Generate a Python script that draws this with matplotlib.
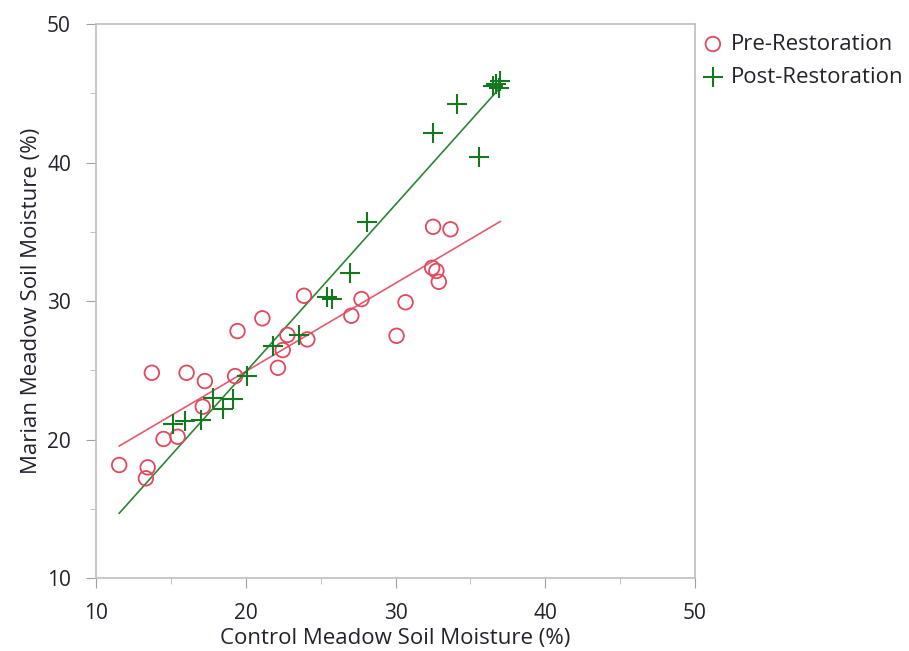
import numpy as np
import matplotlib
matplotlib.use("Agg")
import matplotlib.pyplot as plt
from matplotlib.ticker import MultipleLocator

plt.rcParams["font.family"] = ["Open Sans", "DejaVu Sans"]

# Pre-Restoration (control vs Marian)
pre_x = [11.55, 13.45, 13.33, 13.73, 14.51, 15.45, 16.05, 17.27, 17.13, 19.45,
         19.29, 21.11, 22.15, 22.78, 22.47, 23.89, 24.11, 27.05, 27.73, 30.07,
         30.67, 32.51, 33.67, 32.45, 32.73, 32.89]
pre_y = [18.16, 17.99, 17.20, 24.82, 20.04, 20.20, 24.82, 24.22, 22.37, 27.83,
         24.58, 28.75, 25.18, 27.55, 26.46, 30.38, 27.23, 28.94, 30.14, 27.49,
         29.91, 35.36, 35.18, 32.40, 32.17, 31.39]

# Post-Restoration
post_x = [15.11, 15.95, 17.00, 18.51, 19.18, 17.78, 20.11, 21.85, 23.55, 25.45,
          25.78, 26.95, 28.11, 32.49, 34.11, 35.60, 36.50, 36.70, 36.90, 37.00]
post_y = [21.12, 21.34, 21.41, 22.18, 22.90, 22.99, 24.58, 26.75, 27.55, 30.27,
          30.12, 32.04, 35.73, 42.15, 44.20, 40.42, 45.50, 45.70, 45.40, 45.90]

red = "#E2485E"
green = "#14781E"
text_col = "#22222E"

fig = plt.figure(figsize=(9.09, 6.51), dpi=100)
ax = fig.add_axes([0.1056, 0.1121, 0.659, 0.851])

xmin = min(pre_x + post_x)
xmax = max(pre_x + post_x)
xs = np.array([xmin, xmax])

# least squares fits drawn across the full data range
b_pre = np.polyfit(pre_x, pre_y, 1)
b_post = np.polyfit(post_x, post_y, 1)
ax.plot(xs, np.polyval(b_pre, xs), color=red, lw=1.2, alpha=0.9, zorder=2)
ax.plot(xs, np.polyval(b_post, xs), color=green, lw=1.2, alpha=0.9, zorder=2)

ax.scatter(pre_x, pre_y, s=110, facecolors="none", edgecolors=red,
           linewidths=1.3, zorder=3, label="Pre-Restoration")
ax.scatter(post_x, post_y, s=190, marker="+", color=green,
           linewidths=1.5, zorder=4, label="Post-Restoration")

ax.set_xlim(10, 50)
ax.set_ylim(10, 50)
ax.xaxis.set_major_locator(MultipleLocator(10))
ax.yaxis.set_major_locator(MultipleLocator(10))
ax.xaxis.set_minor_locator(MultipleLocator(5))
ax.yaxis.set_minor_locator(MultipleLocator(5))

for sp in ax.spines.values():
    sp.set_color("#BDBDBD")
    sp.set_linewidth(1.2)
ax.tick_params(which="major", length=7, color="#A0A0A0", labelsize=15,
               labelcolor=text_col, pad=11)
ax.tick_params(which="minor", length=4, color="#B8B8B8")

ax.set_xlabel("Control Meadow Soil Moisture (%)", fontsize=16,
              color=text_col, labelpad=3)
ax.set_ylabel("Marian Meadow Soil Moisture (%)", fontsize=16,
              color=text_col, labelpad=4)

leg = fig.legend(loc="upper left", bbox_to_anchor=(0.772, 0.948),
                 frameon=False, fontsize=16, handletextpad=0.3,
                 borderaxespad=0, borderpad=0, labelspacing=0.55,
                 handlelength=1.0)
for t in leg.get_texts():
    t.set_color(text_col)

fig.savefig("out.png", dpi=100)
